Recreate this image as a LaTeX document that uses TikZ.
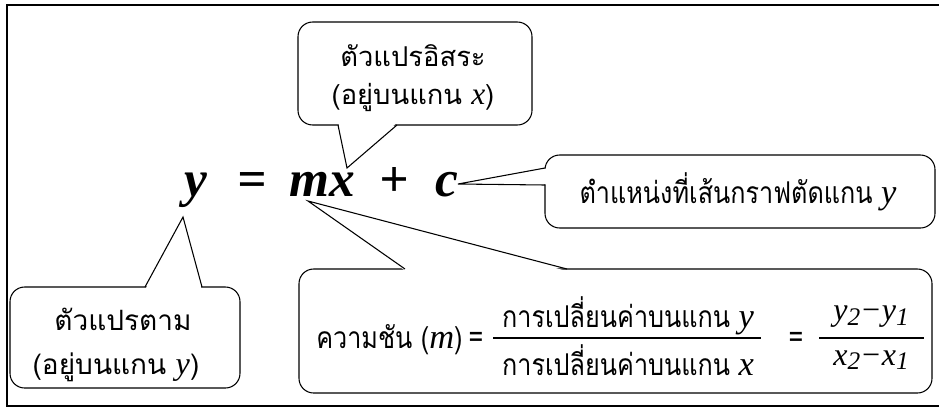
\documentclass[tikz,border=0pt]{standalone}
\usepackage{fontspec}
\setmainfont{Liberation Serif}
\newfontfamily\thaifont[Script=Thai]{Loma}
\newfontfamily\thaicond[Script=Thai,FakeStretch=0.84]{Loma}
\newfontfamily\latbig[Scale=1.15]{Liberation Serif}
\newcommand\lv[1]{{\latbig\itshape #1}}
\newcommand\lsub[1]{\raisebox{-0.3ex}{\fontsize{19}{19}\selectfont\itshape #1}}
\begin{document}
\begin{tikzpicture}[x=0.75pt,y=-0.75pt,
  callout/.style={draw=black,line width=0.8pt,rounded corners=11pt,fill=white},
  tailline/.style={draw=black,line width=0.8pt,line join=miter},
  lbl/.style={font=\thaifont\fontsize{20.5}{24}\selectfont,inner sep=0pt},
  lblbig/.style={font=\thaifont\fontsize{21}{26}\selectfont,inner sep=0pt},
  lblc/.style={font=\thaicond\fontsize{22.5}{26}\selectfont,inner sep=0pt},
  eq/.style={font=\bfseries\itshape\fontsize{38.5}{40}\selectfont,anchor=base,inner sep=0pt},
  frac/.style={font=\rmfamily\itshape\fontsize{24}{26}\selectfont,inner sep=0pt},
  bar/.style={line width=0.9pt}]
\useasboundingbox (0,0) rectangle (939,411);
% frame
\draw[line width=1.6pt] (939,5) -- (7,5) -- (7,406) -- (939,406);

% equation
\node[eq] (ny) at (196,196) {y};
\node[eq] (neq) at (252,196) {=};
\node[eq] (nmx) at (322,196) {mx};
\node[eq] (nplus) at (394,196) {+};
\node[eq] (nc) at (447,196) {c};
\coordinate (tipx) at (347,168);
\coordinate (tipc) at (458,184);
\coordinate (tipy) at (183,217);
\coordinate (tipm) at (308,201);

% top callout
\draw[callout] (298,22) rectangle (532,125);
\fill[white] (338.5,123) -- (tipx) -- (396.5,123) -- cycle;
\draw[tailline] (338,125) -- (tipx) -- (397,125);
\node[lbl] (t1) at (413,56) {ตัวแปรอิสระ};
\node[lbl] (t2) at (413,97) {(อยู่บนแกน \lv{x})};

% right callout
\draw[callout] (545,155) rectangle (935,228);
\fill[white] (547,168.5) -- (tipc) -- (547,184.5) -- cycle;
\draw[tailline] (545,168) -- (tipc) -- (545,185);
\node[lblc] (r1) at (738,192) {ตำแหน่งที่เส้นกราฟตัดแกน \lv{y}};

% bottom-left callout
\draw[callout] (10,287) rectangle (240,388);
\fill[white] (145.5,289) -- (tipy) -- (201.5,289) -- cycle;
\draw[tailline] (145,287) -- (tipy) -- (202,287);
\node[lblbig] (b1) at (123,319) {ตัวแปรตาม};
\node[lblbig] (b2) at (116,367) {(อยู่บนแกน \lv{y})};

% bottom-right callout
\draw[callout] (299,269) rectangle (932,393);
\fill[white] (405.5,271) -- (tipm) -- (566.5,271) -- cycle;
\draw[tailline] (405,269) -- (tipm) -- (567,269);
\node[lblc,anchor=west] (s1) at (316,340) {ความชัน (\lv{m})};
\node[lblc] (s2) at (476,340) {=};
\node[lblc] (n1) at (628,316) {การเปลี่ยนค่าบนแกน \lv{y}};
\node[lblc] (d1) at (628,360) {การเปลี่ยนค่าบนแกน \lv{x}};
\draw[bar] (493,338) -- (761,338);
\node[lblc] (s3) at (796,340) {=};
\node[frac] (n2) at (871,317) {y\lsub{2}−y\lsub{1}};
\node[frac] (d2) at (871,360) {x\lsub{2}−x\lsub{1}};
\draw[bar] (819,338) -- (924,338);
\end{tikzpicture}
\end{document}
